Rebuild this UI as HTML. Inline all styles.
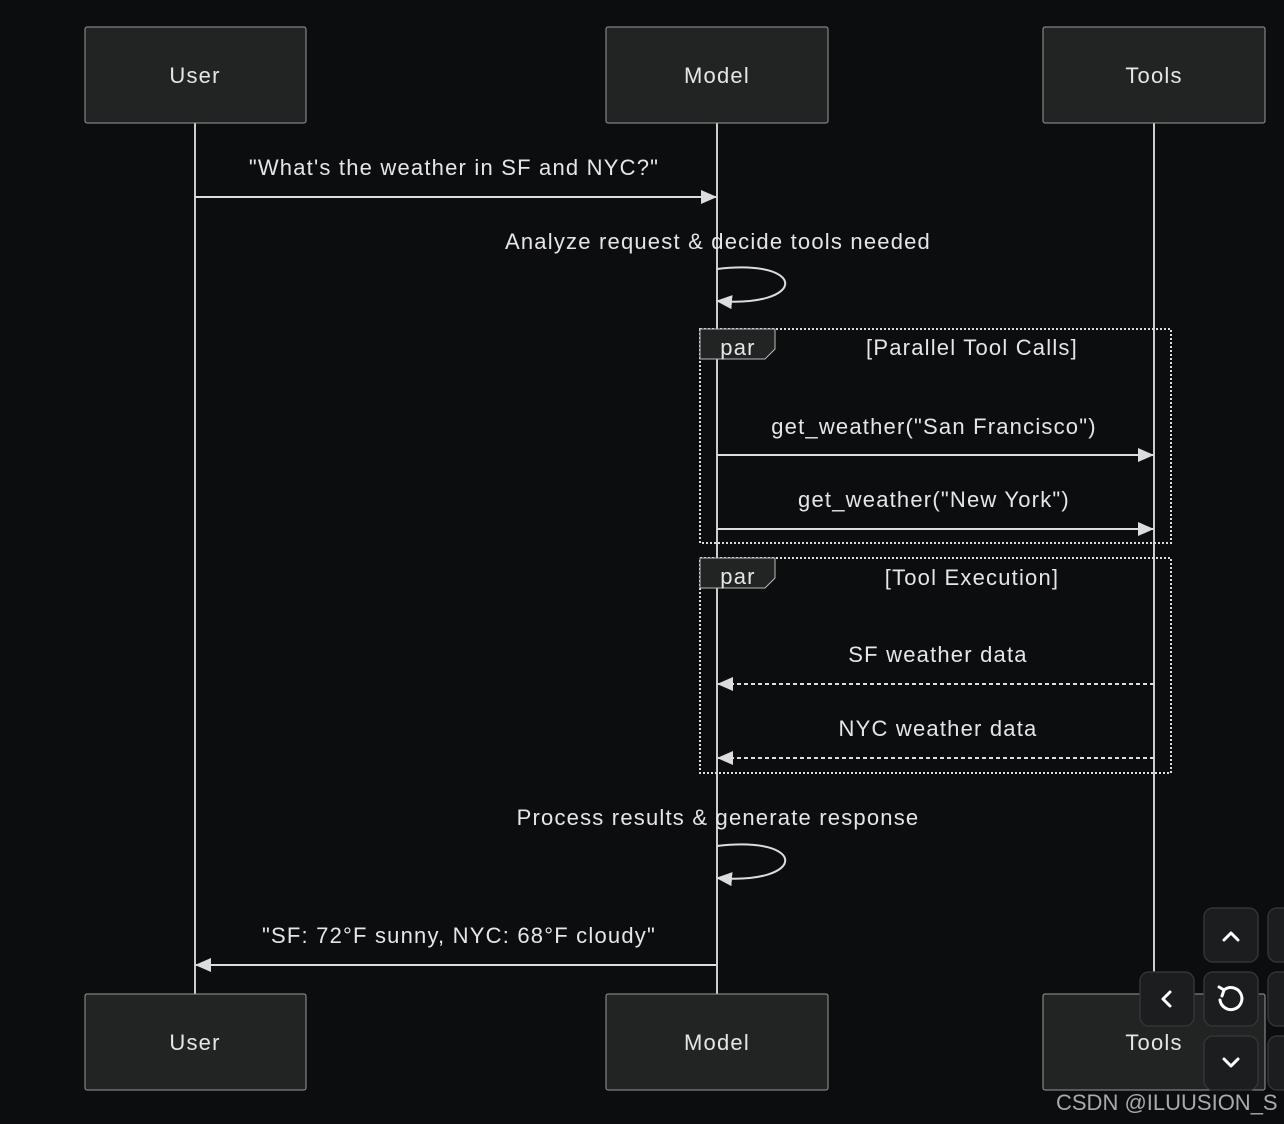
<!DOCTYPE html>
<html><head><style>
html,body{margin:0;padding:0;background:#0c0d0f;}
svg{display:block;font-family:"Liberation Sans",sans-serif;}
</style></head><body>
<svg width="1284" height="1124" viewBox="0 0 1284 1124" xmlns="http://www.w3.org/2000/svg">
<rect width="1284" height="1124" fill="#0c0d0f"/>
<defs>
<marker id="a" markerWidth="16" markerHeight="14" refX="15" refY="7" orient="auto" markerUnits="userSpaceOnUse"><path d="M0,0 L16,7 L0,14 z" fill="#ddd"/></marker>
</defs>
<g stroke="#cccccc" stroke-width="2">
<line x1="195" y1="123" x2="195" y2="994"/>
<line x1="717" y1="123" x2="717" y2="994"/>
<line x1="1154" y1="123" x2="1154" y2="994"/>
</g>
<g fill="#222323" stroke="#999" stroke-width="1">
<rect x="85" y="27" width="221" height="96" rx="2"/>
<rect x="606" y="27" width="222" height="96" rx="2"/>
<rect x="1043" y="27" width="222" height="96" rx="2"/>
<rect x="85" y="994" width="221" height="96" rx="2"/>
<rect x="606" y="994" width="222" height="96" rx="2"/>
<rect x="1043" y="994" width="222" height="96" rx="2"/>
</g>
<g fill="#e6e6e6" font-size="22" text-anchor="middle" letter-spacing="1.2">
<text x="195" y="83">User</text><text x="717" y="83">Model</text><text x="1154" y="83">Tools</text>
<text x="195" y="1050">User</text><text x="717" y="1050">Model</text><text x="1154" y="1050">Tools</text>
<text x="454" y="175">"What's the weather in SF and NYC?"</text>
<text x="718" y="249">Analyze request &amp; decide tools needed</text>
<text x="972" y="355">[Parallel Tool Calls]</text>
<text x="934" y="434">get_weather("San Francisco")</text>
<text x="934" y="507">get_weather("New York")</text>
<text x="972" y="585">[Tool Execution]</text>
<text x="938" y="662">SF weather data</text>
<text x="938" y="736">NYC weather data</text>
<text x="718" y="825">Process results &amp; generate response</text>
<text x="459" y="943">"SF: 72°F sunny, NYC: 68°F cloudy"</text>
</g>
<g stroke="#dddddd" stroke-width="2" fill="none">
<line x1="195" y1="197" x2="716" y2="197" marker-end="url(#a)"/>
<path d="M717,269 C808,258 808,308 717,301" marker-end="url(#a)"/>
<line x1="717" y1="455" x2="1153" y2="455" marker-end="url(#a)"/>
<line x1="717" y1="529" x2="1153" y2="529" marker-end="url(#a)"/>
<line x1="1154" y1="684" x2="718" y2="684" stroke-dasharray="4,3" marker-end="url(#a)"/>
<line x1="1154" y1="758" x2="718" y2="758" stroke-dasharray="4,3" marker-end="url(#a)"/>
<path d="M717,846 C808,835 808,885 717,878" marker-end="url(#a)"/>
<line x1="716" y1="965" x2="196" y2="965" marker-end="url(#a)"/>
</g>
<g stroke="#dddddd" stroke-width="2" fill="none" stroke-dasharray="2,2">
<rect x="700" y="329" width="471" height="214"/>
<rect x="700" y="558" width="471" height="215"/>
</g>
<g fill="#222323" stroke="#bbb" stroke-width="1">
<path d="M700,329 H775 V349 L765,359 H700 z"/>
<path d="M700,558 H775 V578 L765,588 H700 z"/>
</g>
<g fill="#e6e6e6" font-size="22" text-anchor="middle" letter-spacing="1.2">
<text x="738" y="355">par</text><text x="738" y="584">par</text>
</g>
<g fill="#1c1d1e" stroke="#333436" stroke-width="1.5">
<rect x="1204" y="908" width="54" height="54" rx="9"/>
<rect x="1140" y="972" width="54" height="54" rx="9"/>
<rect x="1204" y="972" width="54" height="54" rx="9"/>
<rect x="1204" y="1036" width="54" height="54" rx="9"/>
<rect x="1268" y="908" width="54" height="54" rx="9"/>
<rect x="1268" y="972" width="54" height="54" rx="9"/>
<rect x="1268" y="1036" width="54" height="54" rx="9"/>
</g>
<g stroke="#fff" stroke-width="3" fill="none" stroke-linecap="round" stroke-linejoin="round">
<path d="M1224,940 L1231,933 L1238,940"/>
<path d="M1170,992 L1163,999 L1170,1006"/>
<path d="M1224,1059 L1231,1066 L1238,1059"/>
<path d="M1224,990 A11,11 0 1 1 1220,1000"/>
<path d="M1219,987 L1224,990 L1222,996"/>
</g>
<text x="1056" y="1110" fill="#aaa" font-size="22">CSDN @ILUUSION_S</text>
</svg>
</body></html>
